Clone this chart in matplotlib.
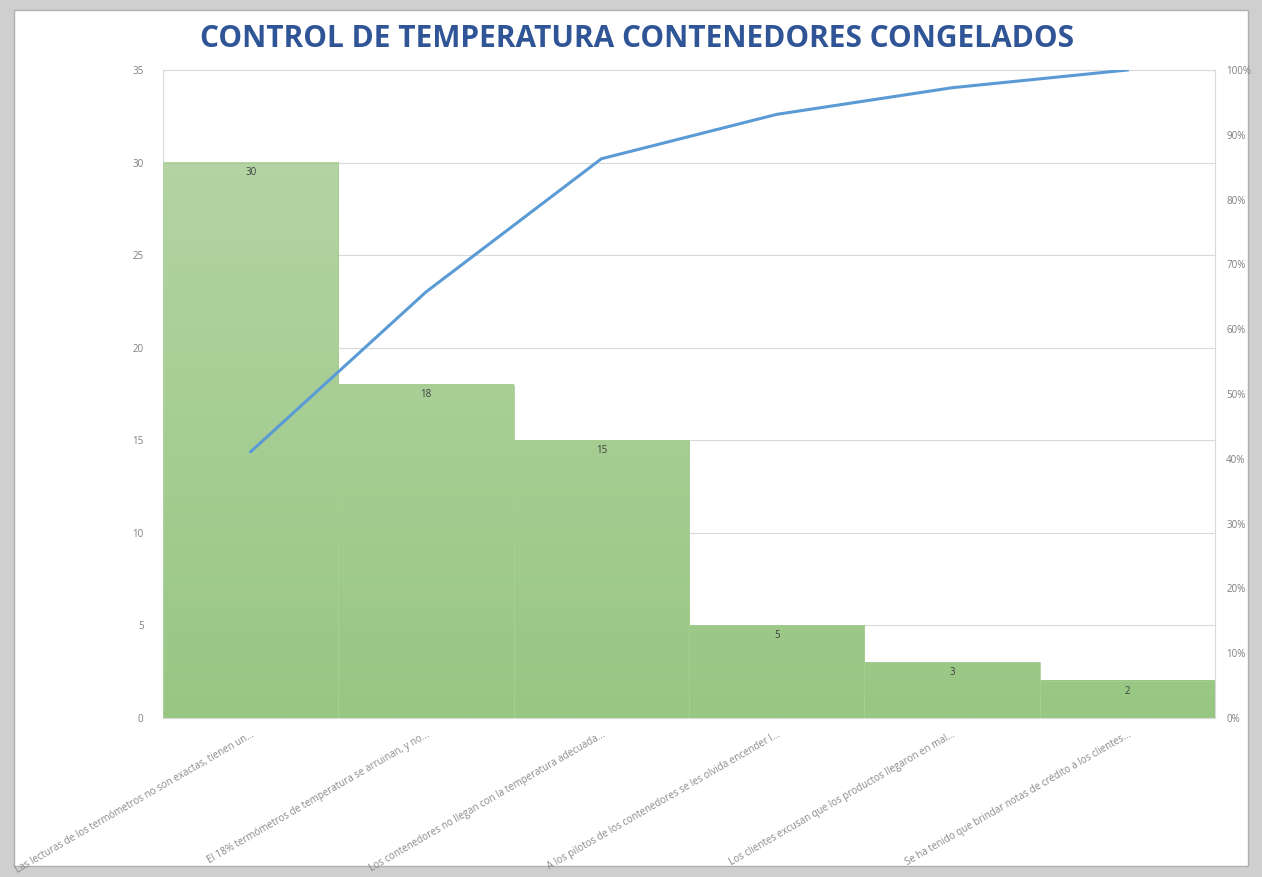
import numpy as np
import matplotlib.pyplot as plt
from matplotlib.patches import Rectangle
from matplotlib.ticker import PercentFormatter
from matplotlib.colors import LinearSegmentedColormap

# Data
categories = [
    "Las lecturas de los termómetros no son exactas, tienen un...",
    "El 18% termómetros de temperatura se arruinan, y no...",
    "Los contenedores no llegan con la temperatura adecuada...",
    "A los pilotos de los contenedores se les olvida encender l...",
    "Los clientes excusan que los productos llegaron en mal...",
    "Se ha tenido que brindar notas de crédito a los clientes...",
]
counts = [30, 18, 15, 5, 3, 2]
cumulative_pct = np.cumsum(counts) / np.sum(counts) * 100

plt.rcParams['font.family'] = ['Open Sans', 'DejaVu Sans']

fig = plt.figure(figsize=(12.62, 8.77), dpi=100)
fig.patch.set_facecolor('#cfcfcf')
# white card on the gray shadow
fig.patches.append(Rectangle((0.011, 0.012), 0.978, 0.977, transform=fig.transFigure,
                             facecolor='white', edgecolor='#b0b0b0', lw=1.0, zorder=-5))

ax = fig.add_axes([0.1292, 0.1813, 0.8336, 0.7389])
ax.set_facecolor('none')
x = np.arange(len(categories))
ymax = 35

# bars with a vertical gradient tied to the value axis
cmap = LinearSegmentedColormap.from_list('g', ['#98c783', '#b8d6a8'])
bars = ax.bar(x, counts, width=1.0, color='none', edgecolor='#a6cf92', linewidth=0.6, zorder=3)
for b in bars:
    x0, y0 = b.get_x(), b.get_y()
    w, h = b.get_width(), b.get_height()
    grad = np.linspace(0, h, 256).reshape(-1, 1)
    ax.imshow(grad, extent=[x0, x0 + w, y0, y0 + h], origin='lower', aspect='auto',
              cmap=cmap, vmin=0, vmax=ymax, zorder=2)
for xi, v in zip(x, counts):
    ax.text(xi, v - 0.25, str(v), ha='center', va='top', fontsize=7, color='#404040', zorder=4)

ax.set_xlim(-0.5, len(categories) - 0.5)
ax.set_ylim(0, ymax)
ax.set_yticks(np.arange(0, ymax + 1, 5))
ax.yaxis.grid(True, color='#d9d9d9', lw=0.8, zorder=0)
ax.set_axisbelow(True)
ax.set_xticks(x)
ax.set_xticklabels(categories, rotation=30, ha='right', va='top', rotation_mode='anchor',
                   fontsize=7, color='#8a8a8a')
ax.tick_params(axis='both', length=0, pad=8)
ax.tick_params(axis='y', labelsize=7, labelcolor='#7f7f7f', pad=14)
for s in ax.spines.values():
    s.set_color('#d9d9d9')
    s.set_linewidth(0.8)

ax2 = ax.twinx()
ax2.plot(x, cumulative_pct, color='#5b9bd5', lw=2.2, zorder=5)
ax2.set_ylim(0, 100)
ax2.set_yticks(np.arange(0, 101, 10))
ax2.yaxis.set_major_formatter(PercentFormatter(decimals=0))
ax2.tick_params(axis='y', length=0, labelsize=7, labelcolor='#7f7f7f', pad=8)
for s in ax2.spines.values():
    s.set_visible(False)

fig.text(0.505, 0.955, "CONTROL DE TEMPERATURA CONTENEDORES CONGELADOS", ha='center', va='center',
         fontsize=21.5, fontweight='bold', color='#2f5597')

fig.savefig('out.png', dpi=100, facecolor=fig.get_facecolor())
